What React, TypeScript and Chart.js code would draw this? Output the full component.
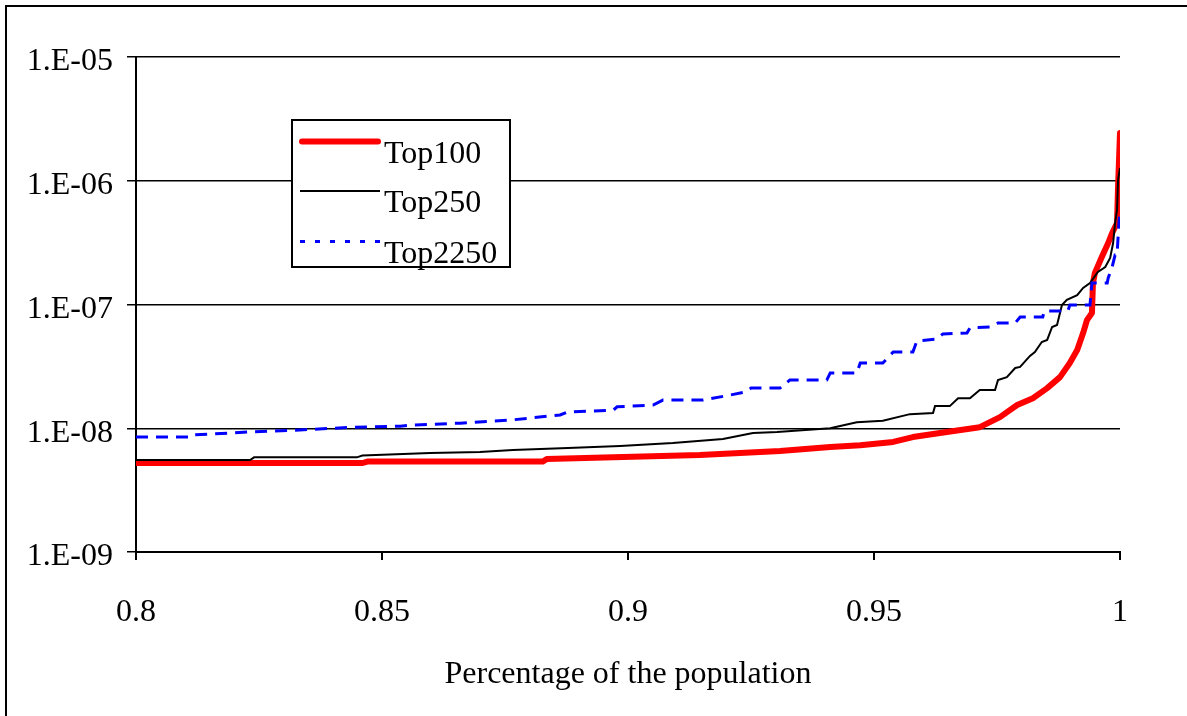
import React, { useEffect, useRef } from "react";
import { Chart, registerables } from "chart.js";

Chart.register(...registerables);

const X_TICKS = [0.8, 0.85, 0.9, 0.95, 1];
const X_TICK_LABELS = ["0.8", "0.85", "0.9", "0.95", "1"];
const Y_TICKS = [1e-9, 1e-8, 1e-7, 1e-6, 1e-5];
const Y_TICK_LABELS = ["1.E-09", "1.E-08", "1.E-07", "1.E-06", "1.E-05"];
const SERIES_NAMES = ["Top100", "Top250", "Top2250"];
const X_TITLE = "Percentage of the population";

const TOP100_X = [0.8, 0.8461, 0.847, 0.8827, 0.8835, 0.899, 0.9146, 0.9309, 0.9411, 0.9472, 0.9539, 0.9579, 0.9648, 0.9715, 0.9756, 0.9791, 0.9823, 0.9852, 0.9878, 0.9898, 0.9913, 0.9925, 0.9933, 0.9943, 0.9945, 0.9949, 0.9963, 0.9976, 0.9984, 0.9994, 0.9996, 1.0];
const TOP100_Y = [5.24e-9, 5.24e-9, 5.38e-9, 5.38e-9, 5.65e-9, 5.86e-9, 6.08e-9, 6.55e-9, 7.05e-9, 7.3e-9, 7.75e-9, 8.49e-9, 9.33e-9, 1.02e-8, 1.23e-8, 1.54e-8, 1.75e-8, 2.11e-8, 2.59e-8, 3.37e-8, 4.29e-8, 5.88e-8, 7.5e-8, 8.54e-8, 1.49e-7, 1.8e-7, 2.42e-7, 3.14e-7, 3.78e-7, 4.56e-7, 8.9e-7, 2.43e-6];

const TOP250_X = [0.8, 0.8232, 0.824, 0.8449, 0.846, 0.8598, 0.8699, 0.8766, 0.8878, 0.8984, 0.9091, 0.9193, 0.9254, 0.9303, 0.9411, 0.9465, 0.9518, 0.9573, 0.962, 0.9624, 0.9654, 0.9671, 0.9695, 0.9715, 0.9746, 0.9752, 0.977, 0.9787, 0.9797, 0.9817, 0.9827, 0.9841, 0.9852, 0.9862, 0.9872, 0.9882, 0.9892, 0.9913, 0.9925, 0.9939, 0.9955, 0.997, 0.998, 0.9986, 0.999, 0.9994, 0.9996, 1.0];
const TOP250_Y = [5.54e-9, 5.54e-9, 5.82e-9, 5.82e-9, 6.02e-9, 6.31e-9, 6.43e-9, 6.67e-9, 6.92e-9, 7.19e-9, 7.6e-9, 8.19e-9, 9.16e-9, 9.33e-9, 1.0e-8, 1.12e-8, 1.15e-8, 1.3e-8, 1.33e-8, 1.51e-8, 1.51e-8, 1.75e-8, 1.75e-8, 2.04e-8, 2.04e-8, 2.45e-8, 2.59e-8, 3.07e-8, 3.13e-8, 3.84e-8, 4.13e-8, 4.98e-8, 5.17e-8, 6.58e-8, 6.83e-8, 9.9e-8, 1.09e-7, 1.19e-7, 1.36e-7, 1.49e-7, 1.83e-7, 2.01e-7, 2.38e-7, 3.14e-7, 4.56e-7, 5.81e-7, 1.01e-6, 1.27e-6];

const TOP2250_X = [0.8, 0.8106, 0.811, 0.8197, 0.8226, 0.8333, 0.8441, 0.8537, 0.8557, 0.8659, 0.8766, 0.8862, 0.8876, 0.897, 0.8978, 0.9051, 0.9071, 0.9152, 0.9197, 0.9238, 0.925, 0.9309, 0.9329, 0.9404, 0.9411, 0.9465, 0.9472, 0.9518, 0.9539, 0.9579, 0.9587, 0.9628, 0.964, 0.9689, 0.9695, 0.9736, 0.9752, 0.9787, 0.9797, 0.9843, 0.9846, 0.9894, 0.9898, 0.9939, 0.9943, 0.9974, 0.9976, 0.9984, 0.999, 0.9994, 0.9996, 0.9998, 1.0];
const TOP2250_Y = [8.49e-9, 8.49e-9, 8.81e-9, 9.16e-9, 9.33e-9, 9.68e-9, 1.02e-8, 1.04e-8, 1.06e-8, 1.1e-8, 1.17e-8, 1.28e-8, 1.35e-8, 1.4e-8, 1.49e-8, 1.54e-8, 1.69e-8, 1.69e-8, 1.82e-8, 1.96e-8, 2.11e-8, 2.11e-8, 2.45e-8, 2.45e-8, 2.79e-8, 2.79e-8, 3.37e-8, 3.37e-8, 4.13e-8, 4.13e-8, 5.07e-8, 5.26e-8, 5.78e-8, 5.88e-8, 6.46e-8, 6.58e-8, 7.09e-8, 7.09e-8, 7.93e-8, 7.93e-8, 8.85e-8, 8.85e-8, 9.9e-8, 9.9e-8, 1.49e-7, 1.49e-7, 1.64e-7, 2.01e-7, 2.51e-7, 2.51e-7, 3.45e-7, 4.64e-7, 5.8e-7];

const FONT = "'Liberation Serif', 'Times New Roman', serif";
const FONT_SIZE = 32;

function zip(xs: number[], ys: number[]) {
  return xs.map((x, i) => ({ x, y: ys[i] }));
}

const framePlugin = {
  id: "frame",
  beforeDraw(chart: any) {
    const ctx = chart.ctx;
    ctx.save();
    ctx.fillStyle = "#fff";
    ctx.fillRect(0, 0, chart.width, chart.height);
    ctx.strokeStyle = "#000";
    ctx.lineWidth = 2;
    ctx.strokeRect(6, 6, chart.width + 20, chart.height + 20);
    ctx.restore();
  },
};

const legendPlugin = {
  id: "boxLegend",
  afterDraw(chart: any) {
    const ctx = chart.ctx;
    const bx = 292, by = 120, bw = 218, bh = 147;
    ctx.save();
    ctx.fillStyle = "#fff";
    ctx.fillRect(bx, by, bw, bh);
    ctx.strokeStyle = "#000";
    ctx.lineWidth = 2;
    ctx.strokeRect(bx, by, bw, bh);
    const rows = [141.5, 191, 241.5];
    const legendDash = [[], [], [5, 10]];
    chart.data.datasets.forEach((ds: any, i: number) => {
      const y = rows[i];
      ctx.beginPath();
      ctx.strokeStyle = ds.borderColor;
      ctx.lineWidth = ds.borderWidth;
      ctx.lineCap = i === 0 ? "round" : "butt";
      ctx.setLineDash(legendDash[i]);
      ctx.moveTo(i === 0 ? 302 : 300, y);
      ctx.lineTo(i === 0 ? 378 : 380, y);
      ctx.stroke();
      ctx.setLineDash([]);
      ctx.fillStyle = "#000";
      ctx.font = `${FONT_SIZE}px ${FONT}`;
      ctx.textBaseline = "alphabetic";
      ctx.textAlign = "left";
      ctx.fillText(ds.label, 384, y + 21);
    });
    ctx.restore();
  },
};

export default function App() {
  const ref = useRef<HTMLCanvasElement | null>(null);
  useEffect(() => {
    if (!ref.current) return;
    Chart.defaults.font.family = FONT;
    Chart.defaults.font.size = FONT_SIZE;
    Chart.defaults.color = "#000";
    const chart = new Chart(ref.current, {
      type: "line",
      data: {
        datasets: [
          {
            label: SERIES_NAMES[0],
            data: zip(TOP100_X, TOP100_Y),
            borderColor: "#ff0000",
            borderWidth: 6,
            borderCapStyle: "round",
            borderJoinStyle: "round",
            pointRadius: 0,
            tension: 0,
            order: 3,
          },
          {
            label: SERIES_NAMES[1],
            data: zip(TOP250_X, TOP250_Y),
            borderColor: "#000000",
            borderWidth: 2,
            pointRadius: 0,
            tension: 0,
            order: 2,
          },
          {
            label: SERIES_NAMES[2],
            data: zip(TOP2250_X, TOP2250_Y),
            borderColor: "#0000ff",
            borderWidth: 3,
            borderDash: [12, 8],
            pointRadius: 0,
            tension: 0,
            order: 1,
          },
        ],
      } as any,
      options: {
        animation: false,
        responsive: false,
        devicePixelRatio: 1,
        layout: { padding: { top: 57, right: 67, left: 0, bottom: 0 } },
        plugins: { legend: { display: false }, tooltip: { enabled: false } },
        scales: {
          x: {
            type: "linear",
            min: 0.8,
            max: 1,
            afterBuildTicks: (axis: any) => {
              axis.ticks = X_TICKS.map((v) => ({ value: v }));
            },
            afterFit: (axis: any) => {
              axis.height = 164;
            },
            ticks: {
              padding: 33,
              maxRotation: 0,
              autoSkip: false,
              callback: (v: any) => X_TICK_LABELS[X_TICKS.findIndex((t) => Math.abs(t - v) < 1e-9)] ?? "",
            },
            grid: { drawOnChartArea: false, drawTicks: true, tickLength: 8, color: "#000", lineWidth: 2 },
            border: { display: true, color: "#000", width: 2 },
            title: { display: true, text: X_TITLE, padding: { top: 0, bottom: 22 }, font: { size: FONT_SIZE } },
          },
          y: {
            type: "logarithmic",
            min: 1e-9,
            max: 1e-5,
            afterBuildTicks: (axis: any) => {
              axis.ticks = Y_TICKS.map((v) => ({ value: v }));
            },
            afterFit: (axis: any) => {
              axis.width = 136;
            },
            ticks: {
              padding: 14,
              labelOffset: 5,
              autoSkip: false,
              callback: (v: any) => Y_TICK_LABELS[Y_TICKS.findIndex((t) => Math.abs(Math.log10(t) - Math.log10(v)) < 1e-6)] ?? "",
            },
            grid: { color: "#000", lineWidth: 1.5, tickLength: 9, drawTicks: true },
            border: { display: true, color: "#000", width: 2 },
          },
        },
      } as any,
      plugins: [framePlugin, legendPlugin],
    });
    return () => chart.destroy();
  }, []);
  return (
    <div style={{ position: "absolute", left: 0, top: 0, width: 1187, height: 716 }}>
      <canvas ref={ref} width={1187} height={716} style={{ display: "block", width: 1187, height: 716 }} />
    </div>
  );
}
